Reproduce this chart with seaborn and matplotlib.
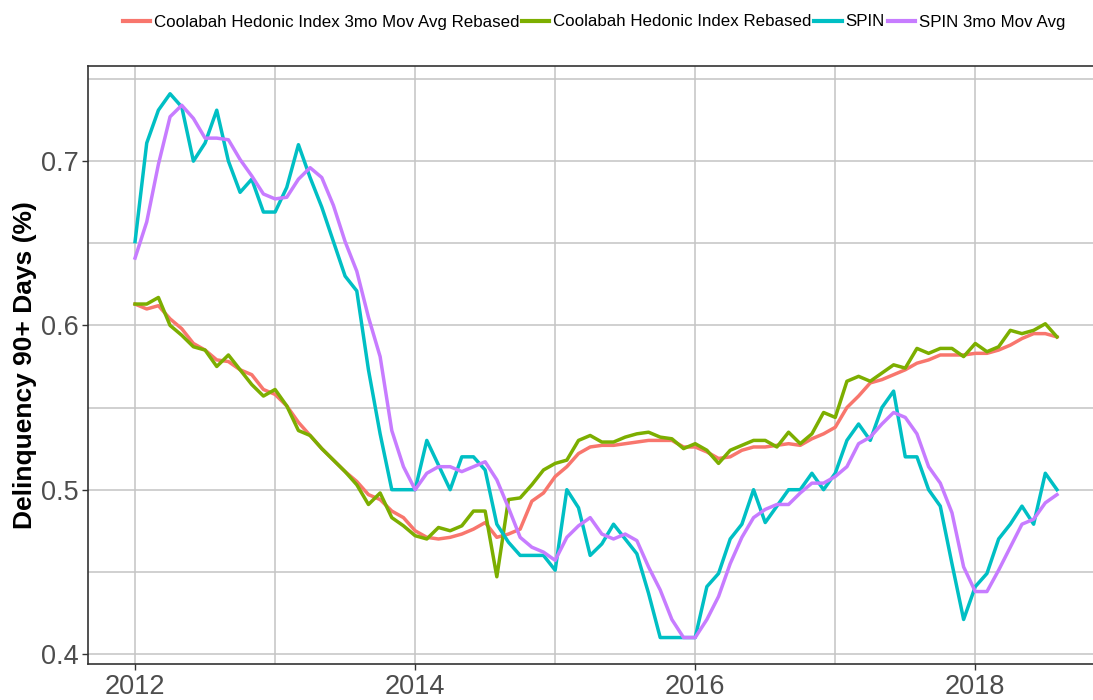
import numpy as np
import pandas as pd
import matplotlib
matplotlib.use("Agg")
import matplotlib.pyplot as plt
import seaborn as sns

# ---------------- data ----------------
months = pd.date_range("2012-01-01", periods=80, freq="MS")

series_names = [
    "Coolabah Hedonic Index 3mo Mov Avg Rebased",
    "Coolabah Hedonic Index Rebased",
    "SPIN",
    "SPIN 3mo Mov Avg",
]
series_colors = ["#F8766D", "#7CAE00", "#00BFC4", "#C77CFF"]

hedonic_ma = [0.613, 0.610, 0.612, 0.604, 0.598, 0.589, 0.585, 0.579, 0.578, 0.573,
              0.570, 0.561, 0.558, 0.551, 0.541, 0.533, 0.525, 0.518, 0.511, 0.505,
              0.497, 0.494, 0.487, 0.483, 0.475, 0.471, 0.470, 0.471, 0.473, 0.476,
              0.480, 0.471, 0.473, 0.476, 0.493, 0.498, 0.508, 0.514, 0.522, 0.526,
              0.527, 0.527, 0.528, 0.529, 0.530, 0.530, 0.530, 0.526, 0.526, 0.523,
              0.519, 0.520, 0.524, 0.526, 0.526, 0.527, 0.528, 0.527, 0.531, 0.534,
              0.538, 0.550, 0.557, 0.565, 0.567, 0.570, 0.573, 0.577, 0.579, 0.582,
              0.582, 0.582, 0.583, 0.583, 0.585, 0.588, 0.592, 0.595, 0.595, 0.593]

hedonic = [0.613, 0.613, 0.617, 0.600, 0.594, 0.587, 0.585, 0.575, 0.582, 0.573,
           0.564, 0.557, 0.561, 0.551, 0.536, 0.533, 0.525, 0.518, 0.511, 0.503,
           0.491, 0.498, 0.483, 0.478, 0.472, 0.470, 0.477, 0.475, 0.478, 0.487,
           0.487, 0.447, 0.494, 0.495, 0.503, 0.512, 0.516, 0.518, 0.530, 0.533,
           0.529, 0.529, 0.532, 0.534, 0.535, 0.532, 0.531, 0.525, 0.528, 0.524,
           0.516, 0.524, 0.527, 0.530, 0.530, 0.526, 0.535, 0.528, 0.534, 0.547,
           0.544, 0.566, 0.569, 0.566, 0.571, 0.576, 0.574, 0.586, 0.583, 0.586,
           0.586, 0.581, 0.589, 0.584, 0.587, 0.597, 0.595, 0.597, 0.601, 0.593]

spin = [0.651, 0.711, 0.731, 0.741, 0.733, 0.700, 0.711, 0.731, 0.700, 0.681,
        0.689, 0.669, 0.669, 0.684, 0.710, 0.690, 0.672, 0.651, 0.630, 0.621,
        0.573, 0.534, 0.500, 0.500, 0.500, 0.530, 0.515, 0.500, 0.520, 0.520,
        0.512, 0.479, 0.468, 0.460, 0.460, 0.460, 0.451, 0.500, 0.489, 0.460,
        0.467, 0.479, 0.470, 0.461, 0.437, 0.410, 0.410, 0.410, 0.410, 0.441,
        0.449, 0.470, 0.479, 0.500, 0.480, 0.490, 0.500, 0.500, 0.510, 0.500,
        0.510, 0.530, 0.540, 0.530, 0.550, 0.560, 0.520, 0.520, 0.500, 0.490,
        0.455, 0.421, 0.441, 0.449, 0.470, 0.479, 0.490, 0.479, 0.510, 0.500]

spin_ma = [0.641, 0.663, 0.698, 0.727, 0.734, 0.726, 0.714, 0.714, 0.713, 0.701,
           0.691, 0.680, 0.677, 0.678, 0.689, 0.696, 0.690, 0.673, 0.651, 0.633,
           0.605, 0.581, 0.536, 0.514, 0.500, 0.510, 0.514, 0.514, 0.511, 0.514,
           0.517, 0.506, 0.489, 0.471, 0.465, 0.462, 0.457, 0.471, 0.478, 0.483,
           0.473, 0.470, 0.473, 0.469, 0.453, 0.439, 0.421, 0.410, 0.410, 0.421,
           0.435, 0.455, 0.471, 0.483, 0.488, 0.491, 0.491, 0.498, 0.504, 0.504,
           0.508, 0.514, 0.528, 0.532, 0.540, 0.547, 0.544, 0.534, 0.514, 0.504,
           0.486, 0.453, 0.438, 0.438, 0.451, 0.465, 0.479, 0.482, 0.492, 0.497]

x_major_ticks = [2012, 2014, 2016, 2018]
x_minor_ticks = [2013, 2015, 2017]
y_major_ticks = [0.4, 0.5, 0.6, 0.7]
y_minor_ticks = [0.45, 0.55, 0.65, 0.75]
y_label = "Delinquency 90+ Days (%)"

# ---------------- build long table ----------------
year_frac = months.year + (months.month - 1) / 12.0
frames = []
for name, vals in zip(series_names, [hedonic_ma, hedonic, spin, spin_ma]):
    frames.append(pd.DataFrame({"date": year_frac, "value": vals, "series": name}))
df = pd.concat(frames, ignore_index=True)

# ---------------- plot ----------------
plt.rcParams["font.family"] = ["Liberation Sans", "DejaVu Sans"]

W, H = 1093, 700
fig = plt.figure(figsize=(W / 100, H / 100), dpi=100)
left_px, right_px, top_px, bottom_px = 88, 1103, 66, 664
ax = fig.add_axes([left_px / W, 1 - bottom_px / H,
                   (right_px - left_px) / W, (bottom_px - top_px) / H])

sns.lineplot(data=df, x="date", y="value", hue="series", hue_order=series_names,
             palette=dict(zip(series_names, series_colors)), linewidth=2.5,
             ax=ax, legend=True)

ax.set_xlim(2011.664, 2018.912)
ax.set_ylim(0.3939, 0.7579)
ax.set_xticks(x_major_ticks)
ax.set_xticks(x_minor_ticks, minor=True)
ax.set_yticks(y_major_ticks)
ax.set_yticks(y_minor_ticks, minor=True)
ax.set_xticklabels([str(t) for t in x_major_ticks])
ax.set_yticklabels([f"{t:.1f}" for t in y_major_ticks])

ax.set_facecolor("white")
ax.grid(which="both", color="#c4c4c4", linewidth=1.1)
ax.set_axisbelow(True)
for sp in ax.spines.values():
    sp.set_color("#333333")
    sp.set_linewidth(1.2)

ax.tick_params(which="major", length=4, width=1.0, color="#333333",
               labelsize=19.5, labelcolor="#4d4d4d", pad=3)
ax.tick_params(which="minor", length=0)

ax.set_xlabel("")
ax.set_ylabel(y_label, fontsize=19, fontweight="bold", color="black")
ax.yaxis.set_label_coords((37 - left_px) / (right_px - left_px), 0.5)

handles, labels = ax.get_legend_handles_labels()
ax.get_legend().remove()
for h in handles:
    h.set_linewidth(3.0)
fig.legend(handles, labels, loc="center", bbox_to_anchor=(594 / W, 1 - 22 / H),
           ncol=4, frameon=False, fontsize=12.2, handlelength=1.6,
           handletextpad=0.25, columnspacing=0.15, borderaxespad=0)

fig.savefig("out.png", dpi=100, facecolor="white")
